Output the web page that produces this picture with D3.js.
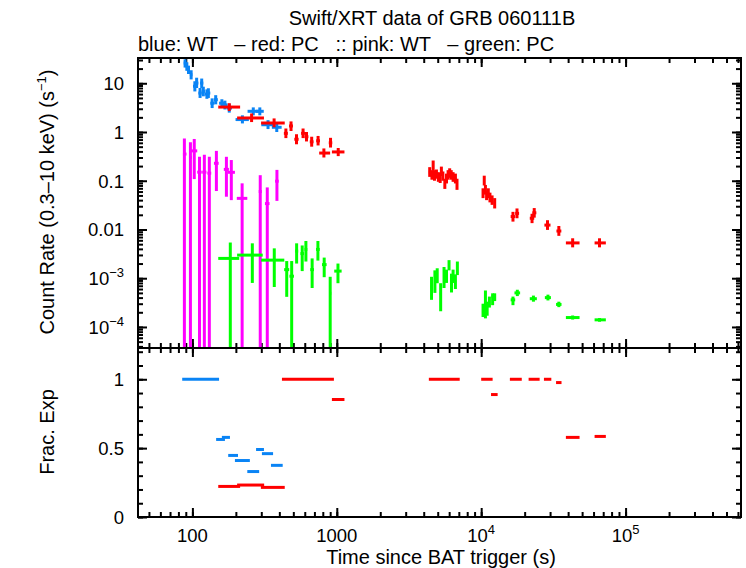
<!DOCTYPE html>
<html>
<head>
<meta charset="utf-8">
<title>Swift/XRT GRB 060111B</title>
<script src="https://cdn.jsdelivr.net/npm/d3@7"></script>
<style>
  body { margin: 0; background: #fff; }
  svg text { font-family: "Liberation Sans", Arial, Helvetica, sans-serif; fill: #000; }
</style>
</head>
<body>
<script>
// each point: [t, tmin, tmax, rate, rateMin, rateMax]
var wtBlue = [
  [89, 87, 91, 26, 21, 31],
  [91.5, 90, 93, 22, 18, 27],
  [94, 92, 96, 19, 15.5, 23],
  [98, 96, 100, 15, 12, 18.5],
  [104, 101, 107, 8.7, 6.8, 11],
  [107, 105, 110, 10.1, 8, 13],
  [113, 110, 116, 6.3, 5, 8],
  [116, 113, 119, 10.1, 8, 12.5],
  [119, 116, 122, 6.8, 5.4, 8.5],
  [126, 122, 129, 6.0, 4.8, 7.5],
  [129, 126, 133, 6.3, 5, 7.9],
  [137, 133, 142, 3.9, 3.1, 4.9],
  [145, 141, 150, 4.6, 3.7, 5.7],
  [160, 153, 167, 3.9, 3.2, 4.7],
  [168, 162, 175, 3.6, 2.9, 4.4],
  [180, 173, 188, 3.1, 2.5, 3.8],
  [222, 199, 246, 1.8, 1.5, 2.2],
  [264, 241, 290, 2.66, 2.2, 3.2],
  [293, 275, 312, 2.66, 2.2, 3.2],
  [334, 300, 372, 1.41, 1.15, 1.75],
  [384, 355, 415, 1.25, 1.0, 1.55]
];

var pcRed = [
  [180, 151, 214, 3.25, 2.7, 3.9],
  [257, 204, 313, 1.94, 1.6, 2.4],
  [368, 299, 436, 1.53, 1.25, 1.9],
  [482, 467, 497, 1.33, 1.05, 1.65],
  [444, 430, 458, 0.94, 0.75, 1.18],
  [526, 508, 544, 0.71, 0.56, 0.9],
  [584, 566, 602, 0.94, 0.75, 1.18],
  [617, 598, 636, 0.80, 0.64, 1.0],
  [670, 650, 690, 0.63, 0.5, 0.8],
  [742, 720, 765, 0.66, 0.53, 0.83],
  [814, 755, 899, 0.37, 0.3, 0.46],
  [905, 880, 930, 0.60, 0.48, 0.76],
  [1023, 925, 1130, 0.39, 0.32, 0.47],
  [4400, 4340, 4470, 0.15, 0.12, 0.19],
  [4560, 4480, 4640, 0.13, 0.105, 0.165],
  [4650, 4590, 4710, 0.21, 0.16, 0.26],
  [4750, 4700, 4810, 0.13, 0.1, 0.165],
  [4900, 4830, 4970, 0.135, 0.11, 0.17],
  [5050, 4980, 5120, 0.12, 0.095, 0.15],
  [5200, 5130, 5270, 0.115, 0.09, 0.145],
  [5300, 5240, 5370, 0.155, 0.125, 0.195],
  [5430, 5370, 5500, 0.125, 0.1, 0.155],
  [5600, 5530, 5680, 0.085, 0.068, 0.11],
  [5750, 5690, 5820, 0.11, 0.088, 0.14],
  [5900, 5830, 5970, 0.13, 0.105, 0.165],
  [6050, 5980, 6120, 0.145, 0.115, 0.18],
  [6200, 6130, 6270, 0.13, 0.105, 0.165],
  [6390, 6300, 6480, 0.12, 0.095, 0.15],
  [6630, 6540, 6720, 0.11, 0.088, 0.14],
  [6800, 6720, 6900, 0.085, 0.065, 0.11],
  [10300, 10200, 10400, 0.055, 0.044, 0.07],
  [10500, 10400, 10600, 0.1, 0.08, 0.127],
  [10700, 10600, 10800, 0.065, 0.052, 0.082],
  [10900, 10800, 11000, 0.05, 0.04, 0.063],
  [11200, 11050, 11350, 0.055, 0.044, 0.07],
  [11500, 11350, 11650, 0.045, 0.036, 0.057],
  [11900, 11700, 12100, 0.04, 0.032, 0.05],
  [12400, 12200, 12600, 0.035, 0.027, 0.044],
  [16600, 16000, 17200, 0.0184, 0.0145, 0.023],
  [17700, 17200, 18300, 0.0214, 0.017, 0.027],
  [22500, 21700, 23300, 0.017, 0.0135, 0.021],
  [23300, 22600, 24100, 0.022, 0.0175, 0.0275],
  [28800, 27400, 30200, 0.0123, 0.0098, 0.0155],
  [34500, 33200, 35900, 0.0093, 0.0074, 0.0118],
  [43000, 38600, 48000, 0.0053, 0.0043, 0.0066],
  [66000, 61000, 73000, 0.0053, 0.0043, 0.0066]
];

var wtPink = [
  [88, 86, 91, 0.353, 1e-7, 0.74],
  [96.9, 95, 99, 0.30, 1e-7, 0.615],
  [103, 98, 108, 0.41, 0.108, 0.72],
  [112, 108, 116, 0.15, 1e-7, 0.31],
  [121, 117, 125, 0.15, 1e-7, 0.34],
  [131, 127, 135, 0.143, 1e-7, 0.31],
  [146.6, 141, 152, 0.228, 0.0615, 0.41],
  [172, 165, 179, 0.171, 0.047, 0.31],
  [186, 176, 197, 0.149, 0.040, 0.266],
  [221, 203, 240, 0.0435, 1e-7, 0.0885],
  [295, 288, 302, 0.06, 1e-7, 0.13],
  [330, 318, 342, 0.034, 1e-7, 0.073],
  [385, 374, 396, 0.098, 0.0386, 0.167]
];

var pcGreen = [
  [183, 151, 211, 2.55e-3, 1e-8, 5.4e-3],
  [260, 204, 307, 2.98e-3, 8.0e-4, 5.2e-3],
  [369, 299, 433, 2.35e-3, 6.6e-4, 4.1e-3],
  [450, 432, 468, 1.5e-3, 4.15e-4, 2.25e-3],
  [487, 470, 505, 1.1e-3, 1e-8, 2.25e-3],
  [527, 515, 540, 3.6e-3, 2.0e-3, 5.2e-3],
  [576, 560, 592, 3.2e-3, 1.4e-3, 4.7e-3],
  [611, 598, 625, 3.9e-3, 2.2e-3, 5.8e-3],
  [675, 655, 695, 1.5e-3, 6.3e-4, 2.55e-3],
  [740, 718, 762, 3.9e-3, 2.3e-3, 5.8e-3],
  [818, 790, 850, 1.9e-3, 1.05e-3, 2.65e-3],
  [900, 885, 915, 4.9e-4, 1e-8, 1.07e-3],
  [1019, 960, 1080, 1.4e-3, 7.9e-4, 2.0e-3],
  [4530, 4470, 4590, 6.6e-4, 3.6e-4, 1.07e-3],
  [4780, 4720, 4840, 1.06e-3, 5.0e-4, 1.45e-3],
  [4960, 4900, 5020, 1.24e-3, 7.9e-4, 1.6e-3],
  [5240, 5170, 5310, 4.9e-4, 2.1e-4, 7.9e-4],
  [5530, 5460, 5600, 1.06e-3, 6.3e-4, 1.7e-3],
  [5750, 5680, 5820, 1.16e-3, 8.0e-4, 1.5e-3],
  [5990, 5920, 6060, 1.85e-3, 1.45e-3, 2.35e-3],
  [6230, 6160, 6300, 7.9e-4, 5.1e-4, 1.24e-3],
  [6390, 6320, 6460, 1.16e-3, 8.0e-4, 1.5e-3],
  [6630, 6560, 6700, 8.5e-4, 6.0e-4, 1.2e-3],
  [6840, 6770, 6910, 1.7e-3, 1.16e-3, 2.2e-3],
  [10300, 10200, 10400, 2.2e-4, 1.6e-4, 3.0e-4],
  [10700, 10600, 10800, 3.0e-4, 1.5e-4, 5.6e-4],
  [11000, 10900, 11100, 2.4e-4, 1.7e-4, 3.3e-4],
  [11400, 11300, 11500, 3.3e-4, 2.5e-4, 4.2e-4],
  [12000, 11800, 12200, 4.2e-4, 2.8e-4, 4.9e-4],
  [12400, 12200, 12600, 4.2e-4, 3.4e-4, 4.9e-4],
  [16600, 16000, 17200, 3.6e-4, 2.8e-4, 4.2e-4],
  [17800, 17000, 18600, 5.0e-4, 4.3e-4, 5.8e-4],
  [23000, 21700, 24300, 3.8e-4, 3.3e-4, 4.4e-4],
  [29000, 27600, 30400, 4.0e-4, 3.5e-4, 4.6e-4],
  [34500, 33000, 36000, 2.9e-4, 2.55e-4, 3.3e-4],
  [43000, 38600, 48000, 1.56e-4, 1.42e-4, 1.72e-4],
  [66000, 61000, 73000, 1.4e-4, 1.28e-4, 1.52e-4]
];

// fractional exposure: [tmin, tmax, frac]
var fracBlue = [
  [85, 153, 1.0], [160, 182, 0.578], [146, 168, 0.563], [177, 207, 0.447],
  [197, 250, 0.41], [276, 313, 0.49], [303, 362, 0.46], [350, 422, 0.375],
  [240, 290, 0.33]
];
var fracRed = [
  [417, 955, 1.0], [925, 1130, 0.853], [151, 214, 0.222], [204, 314, 0.232],
  [298, 436, 0.215], [4340, 7100, 1.0], [10000, 12000, 1.0], [11700, 13000, 0.889],
  [15800, 19100, 1.0], [21300, 25400, 1.0], [27200, 30600, 1.0], [33000, 36000, 0.976],
  [38600, 48000, 0.578], [61000, 73000, 0.585]
];

var xTicks = [100, 1000, 1e4, 1e5];
var xTickLabels = [["100", ""], ["1000", ""], ["10", "4"], ["10", "5"]];
var yTicks = [10, 1, 0.1, 0.01, 1e-3, 1e-4];
var yTickLabels = [["10", ""], ["1", ""], ["0.1", ""], ["0.01", ""], ["10", "\u22123"], ["10", "\u22124"]];
var fracTicks = [0, 0.5, 1];
var fracTickLabels = ["0", "0.5", "1"];

// panel edges (window.top is read-only, so use other names)
var W = 746, H = 568,
  pL = 138, pR = 741, pT = 58, pM = 348, pB = 517;

var svg = d3.select('body').append('svg')
  .attr('width', W)
  .attr('height', H);

var x = d3.scaleLog().domain([42, 6.3e5]).range([pL, pR]);
var y = d3.scaleLog().domain([3.7e-5, 33]).range([pM, pT]);
var yf = d3.scaleLinear().domain([0, 1.227]).range([pB, pM]);

// minor tick values for log axes
function logMinor(lo, hi) {
  var out = [];
  for (var e = Math.floor(Math.log10(lo)); e <= Math.ceil(Math.log10(hi)); e++) {
    for (var m = 1; m < 10; m++) {
      var v = m * Math.pow(10, e);
      if (v >= lo && v <= hi) out.push(v);
    }
  }
  return out;
}

var defs = svg.append('defs');
defs.append('clipPath').attr('id', 'clipTop')
  .append('rect').attr('x', pL).attr('y', pT).attr('width', pR - pL).attr('height', pM - pT);
defs.append('clipPath').attr('id', 'clipBot')
  .append('rect').attr('x', pL).attr('y', pM).attr('width', pR - pL).attr('height', pB - pM);

// ticks (all inward, gnuplot style)
function tickAxis(axisFn, scale, values, size, tx, ty) {
  var a = axisFn(scale).tickValues(values).tickSize(size).tickFormat('');
  var g = svg.append('g').attr('transform', 'translate(' + tx + ',' + ty + ')').call(a);
  g.select('.domain').remove();
  g.selectAll('line').attr('stroke', '#000').attr('stroke-width', 2);
}

var xMinor = logMinor(42, 6.3e5);
[[d3.axisTop, pB], [d3.axisBottom, pM], [d3.axisTop, pM], [d3.axisBottom, pT]].forEach(function (p) {
  tickAxis(p[0], x, xMinor, 5, 0, p[1]);
  tickAxis(p[0], x, xTicks, 9, 0, p[1]);
});
var yMinor = logMinor(3.7e-5, 33);
tickAxis(d3.axisRight, y, yMinor, 5, pL, 0);
tickAxis(d3.axisRight, y, yTicks, 9, pL, 0);
tickAxis(d3.axisLeft, y, yMinor, 5, pR, 0);
tickAxis(d3.axisLeft, y, yTicks, 9, pR, 0);
var fMinor = d3.range(0, 1.21, 0.1);
tickAxis(d3.axisRight, yf, fMinor, 5, pL, 0);
tickAxis(d3.axisRight, yf, fracTicks, 9, pL, 0);
tickAxis(d3.axisLeft, yf, fMinor, 5, pR, 0);
tickAxis(d3.axisLeft, yf, fracTicks, 9, pR, 0);

// data: count rate panel
function drawSeries(data, color) {
  var g = svg.append('g').attr('clip-path', 'url(#clipTop)')
    .attr('stroke', color).attr('stroke-width', 3);
  data.forEach(function (d) {
    g.append('line')
      .attr('x1', x(d[0])).attr('x2', x(d[0]))
      .attr('y1', y(d[5])).attr('y2', y(Math.max(d[4], 1e-6)));
    g.append('line')
      .attr('x1', x(d[1])).attr('x2', x(d[2]))
      .attr('y1', y(d[3])).attr('y2', y(d[3]));
  });
}
drawSeries(wtBlue, '#0a84f5');
drawSeries(pcRed, '#ff0000');
drawSeries(wtPink, '#ff00ff');
drawSeries(pcGreen, '#00ff00');

// data: fractional exposure panel
function drawFrac(data, color) {
  svg.append('g').attr('clip-path', 'url(#clipBot)')
    .selectAll('line').data(data).enter().append('line')
    .attr('x1', function (d) { return x(d[0]); })
    .attr('x2', function (d) { return x(d[1]); })
    .attr('y1', function (d) { return yf(d[2]); })
    .attr('y2', function (d) { return yf(d[2]); })
    .attr('stroke', color).attr('stroke-width', 3);
}
drawFrac(fracBlue, '#0a84f5');
drawFrac(fracRed, '#ff0000');

// frames
svg.append('rect').attr('x', pL).attr('y', pT).attr('width', pR - pL).attr('height', pM - pT)
  .attr('fill', 'none').attr('stroke', '#000').attr('stroke-width', 2);
svg.append('rect').attr('x', pL).attr('y', pM).attr('width', pR - pL).attr('height', pB - pM)
  .attr('fill', 'none').attr('stroke', '#000').attr('stroke-width', 2);

// tick labels
var fs = 20, tfs = 18.5;
function supLabel(sel, parts) {
  sel.append('tspan').text(parts[0]);
  if (parts[1]) {
    sel.append('tspan').attr('dy', -8).attr('font-size', 13).text(parts[1]);
  }
}
xTicks.forEach(function (v, i) {
  var t = svg.append('text').attr('x', x(v)).attr('y', 542)
    .attr('text-anchor', 'middle').attr('font-size', tfs);
  supLabel(t, xTickLabels[i]);
});
yTicks.forEach(function (v, i) {
  var t = svg.append('text').attr('x', 124).attr('y', y(v) + 7)
    .attr('text-anchor', 'end').attr('font-size', tfs);
  supLabel(t, yTickLabels[i]);
});
fracTicks.forEach(function (v, i) {
  svg.append('text').attr('x', 124).attr('y', yf(v) + 7)
    .attr('text-anchor', 'end').attr('font-size', tfs).text(fracTickLabels[i]);
});

// titles
svg.append('text').attr('x', 432).attr('y', 25).attr('text-anchor', 'middle')
  .attr('font-size', fs).text('Swift/XRT data of GRB 060111B');
svg.append('text').attr('x', 138).attr('y', 51).attr('font-size', fs)
  .attr('xml:space', 'preserve')
  .text('blue: WT   \u2013 red: PC   :: pink: WT   \u2013 green: PC');
svg.append('text').attr('x', 441).attr('y', 564).attr('text-anchor', 'middle')
  .attr('font-size', fs).text('Time since BAT trigger (s)');

var yl = svg.append('text').attr('transform', 'translate(54,202) rotate(-90)')
  .attr('text-anchor', 'middle').attr('font-size', fs);
yl.append('tspan').text('Count Rate (0.3\u201310 keV) (s');
yl.append('tspan').attr('dy', -8).attr('font-size', 13).text('\u22121');
yl.append('tspan').attr('dy', 8).text(')');

svg.append('text').attr('transform', 'translate(54,432) rotate(-90)')
  .attr('text-anchor', 'middle').attr('font-size', fs).text('Frac. Exp');
</script>
</body>
</html>
